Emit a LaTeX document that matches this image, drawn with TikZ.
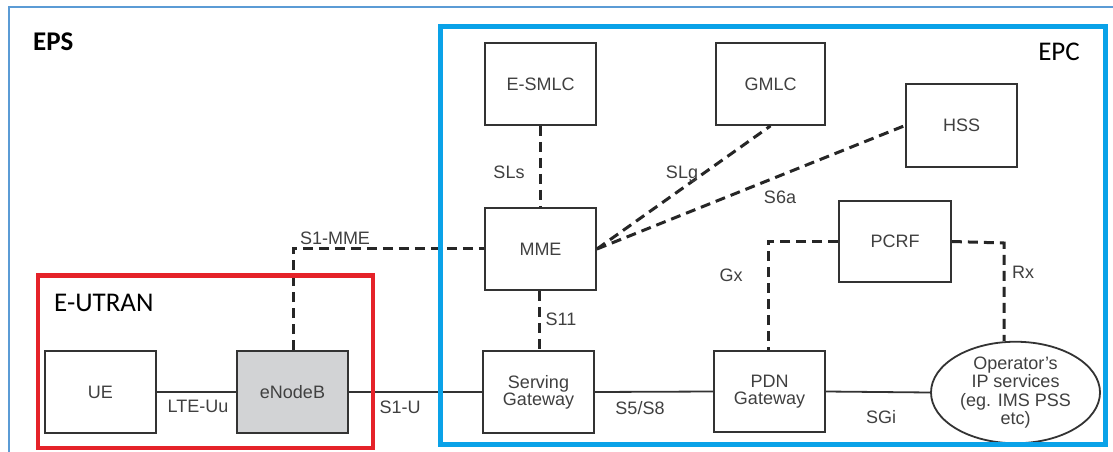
\documentclass[tikz,border=0pt]{standalone}
\usepackage{fontspec}
\setmainfont{Liberation Sans}
\newfontfamily\calib{Carlito}
\usetikzlibrary{shapes.geometric,calc}
\definecolor{frameblue}{HTML}{5B9BD5}
\definecolor{epcblue}{HTML}{0AA2E8}
\definecolor{utranred}{HTML}{E52229}
\definecolor{boxgrey}{HTML}{333333}
\definecolor{txtgrey}{HTML}{404040}
\definecolor{enbfill}{HTML}{D2D3D5}
\begin{document}
\begin{tikzpicture}[x=1pt,y=-1pt,
  box/.style={draw=boxgrey, line width=1.8pt, fill=white, minimum width=111pt, minimum height=82pt, inner sep=0pt, align=center, text=txtgrey, font=\fontsize{18}{20}\selectfont},
  lbl/.style={text=txtgrey, font=\fontsize{18}{20}\selectfont, inner sep=0pt},
  dsh/.style={draw=black!85, line width=3pt, dash pattern=on 10pt off 6pt},
  sol/.style={draw=boxgrey, line width=1.8pt},
  title/.style={inner sep=0pt, text=black, font=\calib\fontsize{27}{30}\selectfont}
]
\useasboundingbox (0,0) rectangle (1113,452);
\clip (0,0) rectangle (1113,452);
\fill[white] (0,0) rectangle (1113,452);

% outer EPS frame
\draw[frameblue, line width=1.4pt] (9,480) -- (9,7) -- (1140,7);
\node[title, anchor=west, font=\calib\bfseries\fontsize{27}{30}\selectfont] (eps) at (33,42) {EPS};

% nodes
\node[box] (esmlc) at (540.5,84) {E-SMLC};
\node[box, minimum width=109pt] (gmlc) at (770.5,84) {GMLC};
\node[box, minimum height=83pt] (hss) at (961.5,125.5) {HSS};
\node[box] (mme) at (540.5,249) {MME};
\node[box, minimum width=112pt, minimum height=81pt] (pcrf) at (895,241.5) {PCRF};
\node[box] (sgw) at (538.5,392) {Serving\\[-3pt]Gateway};
\node[box, minimum height=81pt] (pgw) at (769.5,391.5) {PDN\\[-3pt]Gateway};
\node[box] (ue) at (100.5,392) {UE};
\node[box, fill=enbfill] (enb) at (292.5,392) {eNodeB};
\node[draw=boxgrey, line width=1.8pt, ellipse, fill=white, minimum width=169pt, minimum height=89pt, inner sep=0pt, align=center, text=txtgrey, font=\fontsize{18}{18.5}\selectfont] (ops) at (1015.5,392.5) {Operator{\char"0027}s\\IP services\\(eg. IMS PSS\\etc)};

% solid connectors
\draw[sol] (ue.east) -- (enb.west);
\draw[sol] (enb.east) -- (sgw.west);
\draw[sol] (sgw.east) -- (pgw.west);
\draw[sol] (pgw.east) -- (ops.west);

% dashed connectors
\coordinate (s1c) at (293,248);
\draw[dsh] (enb.north -| s1c) -- (s1c) -- (mme.west |- s1c);
\draw[dsh] (esmlc.south) -- (mme.north);
\draw[dsh] (mme.east) -- (gmlc.south);
\draw[dsh] (mme.east) -- (hss.west);
\draw[dsh] (mme.south -| 539,0) -- (sgw.north -| 539,0);
\draw[dsh] (pcrf.west) -| (pgw.north -| 768,0);
\coordinate (rxc) at (1004,243);
\draw[dsh] (pcrf.east) -- (rxc) -- (rxc |- ops.north);

% labels
\node[lbl] (l1) at (198,406) {LTE-Uu};
\node[lbl] (l2) at (400,407) {S1-U};
\node[lbl] (l3) at (335,238) {S1-MME};
\node[lbl] (l4) at (509,172) {SLs};
\node[lbl] (l5) at (682,174) {SLg};
\node[lbl] (l6) at (780,197) {S6a};
\node[lbl] (l7) at (561,319) {S11};
\node[lbl] (l8) at (640,408) {S5/S8};
\node[lbl] (l9) at (731,275) {Gx};
\node[lbl] (l10) at (1023,272) {Rx};
\node[lbl] (l11) at (881,417) {SGi};

% frames on top
\draw[epcblue, line width=5pt] (440,27) rectangle (1105,444);
\node[title, font=\calib\fontsize{27}{30}\selectfont] (epc) at (1059,52) {EPC};
\draw[utranred, line width=4.5pt] (38,275.5) rectangle (373,448);
\node[title, anchor=west] (eutran) at (54,303) {E-UTRAN};
\end{tikzpicture}
\end{document}
